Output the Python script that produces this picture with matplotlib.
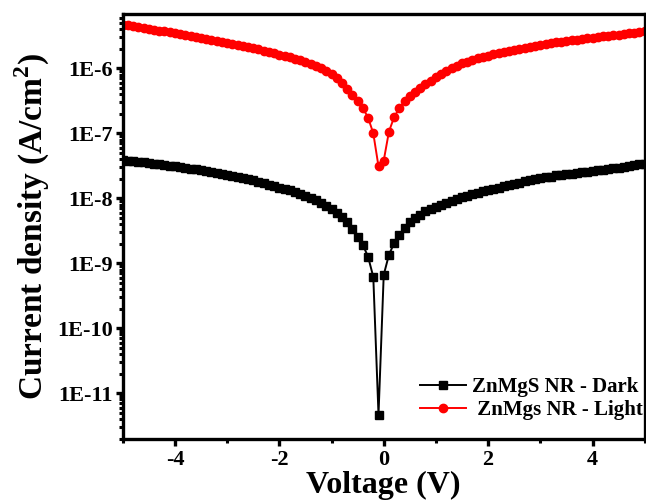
import matplotlib
matplotlib.use("Agg")
import matplotlib.pyplot as plt
from matplotlib.ticker import LogLocator, FixedLocator, FuncFormatter, NullFormatter
import numpy as np

voltage = [-5.0, -4.9, -4.8, -4.7, -4.6, -4.5, -4.4, -4.3, -4.2, -4.1,
           -4.0, -3.9, -3.8, -3.7, -3.6, -3.5, -3.4, -3.3, -3.2, -3.1,
           -3.0, -2.9, -2.8, -2.7, -2.6, -2.5, -2.4, -2.3, -2.2, -2.1,
           -2.0, -1.9, -1.8, -1.7, -1.6, -1.5, -1.4, -1.3, -1.2, -1.1,
           -1.0, -0.9, -0.8, -0.7, -0.6, -0.5, -0.4, -0.3, -0.2, -0.1,
           0.0, 0.1, 0.2, 0.3, 0.4, 0.5, 0.6, 0.7, 0.8, 0.9,
           1.0, 1.1, 1.2, 1.3, 1.4, 1.5, 1.6, 1.7, 1.8, 1.9,
           2.0, 2.1, 2.2, 2.3, 2.4, 2.5, 2.6, 2.7, 2.8, 2.9,
           3.0, 3.1, 3.2, 3.3, 3.4, 3.5, 3.6, 3.7, 3.8, 3.9,
           4.0, 4.1, 4.2, 4.3, 4.4, 4.5, 4.6, 4.7, 4.8, 4.9, 5.0]

dark = [3.89e-8, 3.80e-8, 3.72e-8, 3.63e-8, 3.55e-8, 3.47e-8, 3.39e-8, 3.31e-8, 3.24e-8, 3.16e-8,
        3.09e-8, 3.02e-8, 2.92e-8, 2.85e-8, 2.79e-8, 2.69e-8, 2.63e-8, 2.54e-8, 2.45e-8, 2.37e-8,
        2.29e-8, 2.21e-8, 2.14e-8, 2.04e-8, 1.97e-8, 1.88e-8, 1.80e-8, 1.72e-8, 1.62e-8, 1.55e-8,
        1.46e-8, 1.40e-8, 1.32e-8, 1.24e-8, 1.16e-8, 1.08e-8, 1.01e-8, 9.33e-9, 8.51e-9, 7.59e-9,
        6.76e-9, 5.89e-9, 5.13e-9, 4.27e-9, 3.39e-9, 2.51e-9, 1.91e-9, 1.26e-9, 6.17e-10, 4.68e-12,
        6.61e-10, 1.35e-9, 2.04e-9, 2.75e-9, 3.47e-9, 4.27e-9, 5.01e-9, 5.62e-9, 6.31e-9, 6.84e-9,
        7.41e-9, 7.94e-9, 8.51e-9, 9.12e-9, 9.77e-9, 1.04e-8, 1.10e-8, 1.15e-8, 1.22e-8, 1.27e-8,
        1.33e-8, 1.40e-8, 1.46e-8, 1.53e-8, 1.60e-8, 1.68e-8, 1.74e-8, 1.82e-8, 1.88e-8, 1.95e-8,
        2.02e-8, 2.09e-8, 2.16e-8, 2.24e-8, 2.29e-8, 2.34e-8, 2.40e-8, 2.45e-8, 2.51e-8, 2.57e-8,
        2.63e-8, 2.69e-8, 2.75e-8, 2.82e-8, 2.88e-8, 2.95e-8, 3.02e-8, 3.13e-8, 3.20e-8, 3.31e-8, 3.39e-8]

light = [4.68e-6, 4.57e-6, 4.42e-6, 4.27e-6, 4.17e-6, 4.07e-6, 3.94e-6, 3.80e-6, 3.72e-6, 3.59e-6,
         3.47e-6, 3.35e-6, 3.24e-6, 3.13e-6, 3.02e-6, 2.92e-6, 2.82e-6, 2.72e-6, 2.63e-6, 2.54e-6,
         2.45e-6, 2.37e-6, 2.29e-6, 2.21e-6, 2.11e-6, 2.04e-6, 1.95e-6, 1.86e-6, 1.78e-6, 1.70e-6,
         1.62e-6, 1.55e-6, 1.48e-6, 1.40e-6, 1.32e-6, 1.24e-6, 1.16e-6, 1.08e-6, 1.00e-6, 9.12e-7,
         8.13e-7, 7.08e-7, 6.03e-7, 4.79e-7, 3.89e-7, 3.16e-7, 2.45e-7, 1.74e-7, 1.00e-7, 3.09e-8,
         3.80e-8, 1.06e-7, 1.78e-7, 2.43e-7, 3.09e-7, 3.72e-7, 4.37e-7, 5.01e-7, 5.69e-7, 6.38e-7,
         7.24e-7, 8.13e-7, 9.12e-7, 1.00e-6, 1.10e-6, 1.19e-6, 1.27e-6, 1.35e-6, 1.43e-6, 1.50e-6,
         1.57e-6, 1.64e-6, 1.72e-6, 1.80e-6, 1.86e-6, 1.93e-6, 2.00e-6, 2.07e-6, 2.14e-6, 2.21e-6,
         2.29e-6, 2.37e-6, 2.45e-6, 2.51e-6, 2.57e-6, 2.63e-6, 2.69e-6, 2.75e-6, 2.82e-6, 2.88e-6,
         2.95e-6, 3.02e-6, 3.09e-6, 3.16e-6, 3.24e-6, 3.31e-6, 3.39e-6, 3.47e-6, 3.55e-6, 3.67e-6, 3.80e-6]

x_major = [-4, -2, 0, 2, 4]
x_minor = [-5, -3, -1, 1, 3, 5]
y_major = [1e-11, 1e-10, 1e-9, 1e-8, 1e-7, 1e-6]
y_labels = ["1E-11", "1E-10", "1E-9", "1E-8", "1E-7", "1E-6"]

plt.rcParams['font.family'] = ['Liberation Serif', 'DejaVu Serif']
plt.rcParams['font.weight'] = 'bold'
plt.rcParams['axes.unicode_minus'] = False
plt.rcParams['mathtext.fontset'] = 'custom'
plt.rcParams['mathtext.rm'] = 'Liberation Serif:bold'
plt.rcParams['mathtext.bf'] = 'Liberation Serif:bold'

fig = plt.figure(figsize=(6.46, 5.01), dpi=100)
ax = fig.add_axes([0.190, 0.124, 0.808, 0.848])

ax.plot(voltage, dark, color='black', marker='s', markersize=5.6, linewidth=1.4,
        label='ZnMgS NR - Dark')
ax.plot(voltage, light, color='red', marker='o', markersize=6.0, linewidth=1.4,
        label=' ZnMgs NR - Light')

ax.set_yscale('log')
ax.set_xlim(-5, 5)
ax.set_ylim(1.98e-12, 6.84e-6)

ax.xaxis.set_major_locator(FixedLocator(x_major))
ax.xaxis.set_minor_locator(FixedLocator(x_minor))
ax.yaxis.set_major_locator(FixedLocator(y_major))
ax.yaxis.set_major_formatter(FuncFormatter(lambda v, p: y_labels[y_major.index(v)] if v in y_major else ""))
ax.yaxis.set_minor_locator(LogLocator(base=10, subs=np.arange(2, 10), numticks=30))
ax.yaxis.set_minor_formatter(NullFormatter())

for s in ax.spines.values():
    s.set_linewidth(2.4)

ax.tick_params(axis='both', which='major', direction='out', length=5, width=2.4,
               labelsize=16, pad=3, top=False, right=False)
ax.tick_params(axis='y', which='major', pad=2)
ax.tick_params(axis='both', which='minor', direction='out', length=3, width=2.2,
               top=False, right=False)

ax.set_xlabel('Voltage (V)', fontsize=23, fontweight='bold', labelpad=1)
ax.set_ylabel(r'Current density (A/cm$^2$)', fontsize=24, fontweight='bold', labelpad=4)

leg = ax.legend(loc='lower right', frameon=False, fontsize=15, handlelength=2.2,
                borderaxespad=0.0, labelspacing=0.15, handletextpad=0.3,
                bbox_to_anchor=(1.012, 0.025))
for t in leg.get_texts():
    t.set_fontweight('bold')

fig.savefig('out.png', dpi=100)
